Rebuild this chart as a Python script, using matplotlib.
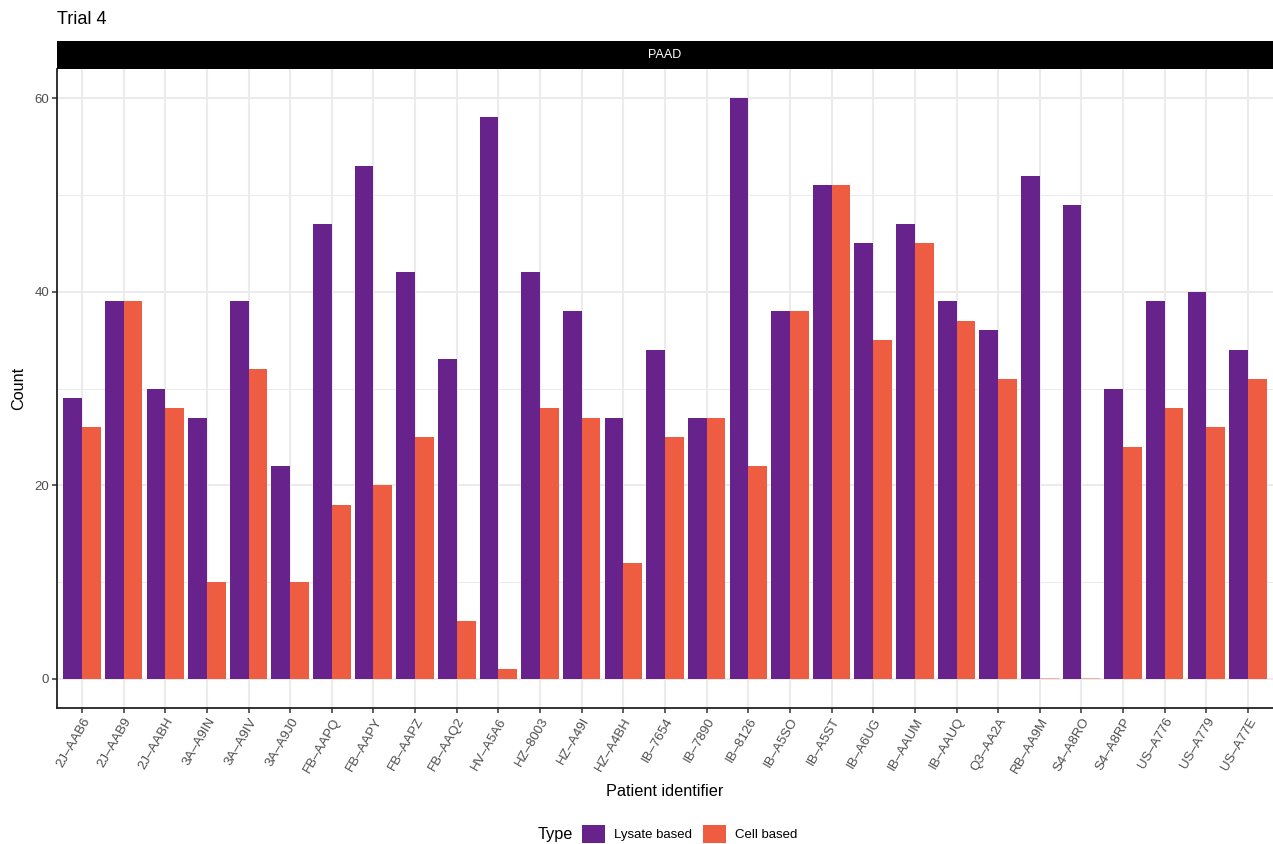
import matplotlib
matplotlib.use('Agg')
import numpy as np
from matplotlib import pyplot as plt
from matplotlib.patches import Patch

patients = ['2J–AAB6', '2J–AAB9', '2J–AABH', '3A–A9IN', '3A–A9IV', '3A–A9J0',
            'FB–AAPQ', 'FB–AAPY', 'FB–AAPZ', 'FB–AAQ2', 'HV–A5A6', 'HZ–8003',
            'HZ–A49I', 'HZ–A4BH', 'IB–7654', 'IB–7890', 'IB–8126', 'IB–A5SO',
            'IB–A5ST', 'IB–A6UG', 'IB–AAUM', 'IB–AAUQ', 'Q3–AA2A', 'RB–AA9M',
            'S4–A8RO', 'S4–A8RP', 'US–A776', 'US–A779', 'US–A77E']
lysate = [29, 39, 30, 27, 39, 22, 47, 53, 42, 33, 58, 42, 38, 27, 34, 27, 60,
          38, 51, 45, 47, 39, 36, 52, 49, 30, 39, 40, 34]
cell = [26, 39, 28, 10, 32, 10, 18, 20, 25, 6, 1, 28, 27, 12, 25, 27, 22,
        38, 51, 35, 45, 37, 31, 0, 0, 24, 28, 26, 31]
types = ['Lysate based', 'Cell based']
colors = ['#68228B', '#EE5C42']

plt.rcParams['font.family'] = ['Liberation Sans', 'DejaVu Sans']

fig = plt.figure(figsize=(12.73, 8.44), dpi=100)
ax = fig.add_axes([57/1273, 136/844, 1 - 57/1273, (708 - 69)/844])

x = np.arange(len(patients))
w = 0.45
ax.bar(x - w/2, lysate, width=w, color=colors[0], linewidth=0, zorder=3)
ax.bar(x + w/2, cell, width=w, color=colors[1], linewidth=0, zorder=3)
# zero-height bars still leave a faint sliver in the original
zero = np.array(cell) == 0
ax.bar(x[zero] + w/2, np.full(zero.sum(), 0.15), width=w, color=colors[1],
       alpha=0.4, linewidth=0, zorder=3)

ax.set_xlim(-0.6, len(patients) - 0.4)
ax.set_ylim(-3, 63)
ax.set_yticks([0, 20, 40, 60])
ax.set_yticks([10, 30, 50], minor=True)
ax.set_xticks(x)
ax.set_xticklabels(patients, rotation=60, ha='right', va='top',
                   rotation_mode='anchor')

ax.grid(True, which='major', color='#EBEBEB', linewidth=1.5, zorder=0)
ax.grid(True, which='minor', axis='y', color='#EBEBEB', linewidth=0.75, zorder=0)
ax.set_axisbelow(True)
for s in ['top', 'right']:
    ax.spines[s].set_visible(False)
for s in ['left', 'bottom']:
    ax.spines[s].set_linewidth(1.3)
    ax.spines[s].set_color('#222222')
ax.tick_params(axis='both', which='major', length=3.5, width=1.1,
               color='#333333', labelcolor='#4D4D4D', labelsize=9.5, pad=2)
ax.tick_params(axis='y', which='minor', length=0)

ax.set_xlabel('Patient identifier', fontsize=11.7, labelpad=6)
ax.set_ylabel('Count', fontsize=11.7, labelpad=6)

# facet strip
strip = fig.add_axes([57/1273, 775/844, 1 - 57/1273, 28/844])
strip.set_facecolor('black')
strip.set_xticks([])
strip.set_yticks([])
for s in strip.spines.values():
    s.set_visible(False)
strip.text(0.5, 0.5, 'PAAD', color='white', fontsize=9,
           ha='center', va='center', transform=strip.transAxes)

fig.text(57/1273, 1 - 20/844, 'Trial 4', fontsize=13, ha='left', va='center')

handles = [Patch(facecolor=c, edgecolor='none') for c in colors]
fig.text(538/1273, 1 - 835/844, 'Type', fontsize=11.7, ha='left', va='center')
fig.legend(handles, types, loc='center left', bbox_to_anchor=(582/1273, 1 - 834/844),
           ncol=2, frameon=False, fontsize=9.5, handlelength=1.75, handleheight=1.75,
           handletextpad=0.65, columnspacing=0.85, borderpad=0, borderaxespad=0)

fig.savefig('out.png', dpi=100)
